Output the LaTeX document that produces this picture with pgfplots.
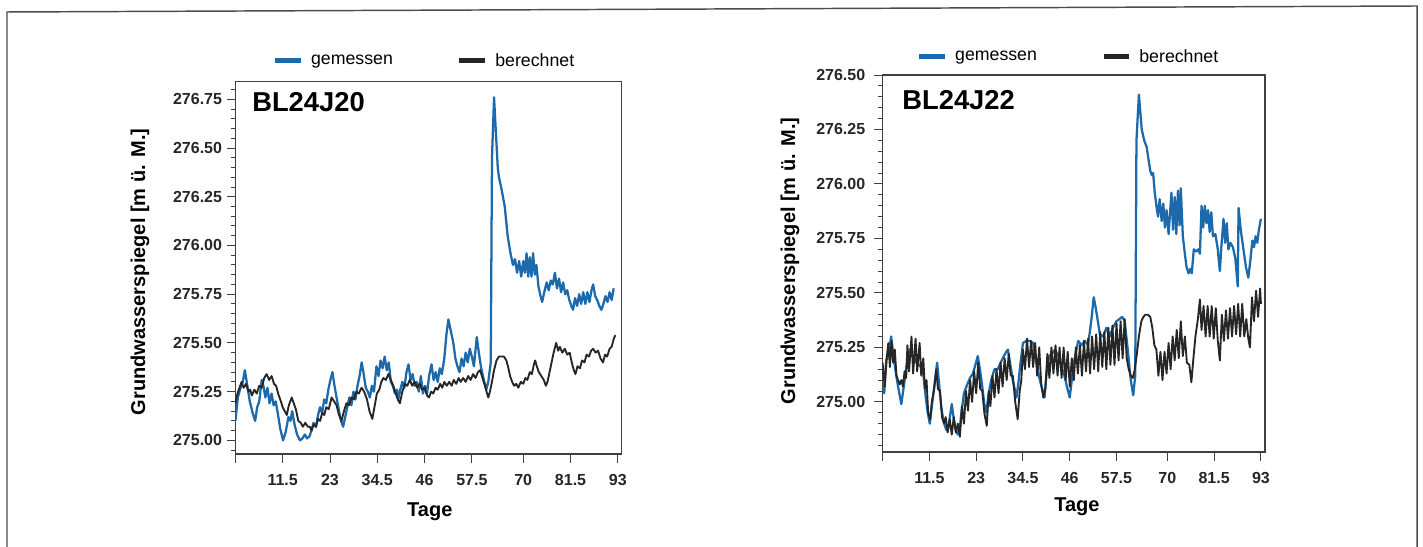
\documentclass[border=0pt]{standalone}
\usepackage{fontspec}
\setmainfont{Liberation Sans}
\usepackage{pgfplots}
\usepackage{pgfplotstable}
\pgfplotsset{compat=1.18}
\definecolor{mess}{RGB}{28,106,172}
\definecolor{rech}{RGB}{38,38,38}

% BL24J20 gemessen
\pgfplotstableread{
t h
0.0 275.10
0.6 275.22
1.1 275.26
1.8 275.30
2.3 275.36
2.9 275.28
3.5 275.20
4.2 275.14
4.8 275.10
5.3 275.17
5.8 275.20
6.4 275.31
6.8 275.28
7.3 275.22
7.8 275.27
8.3 275.19
8.8 275.24
9.3 275.18
9.8 275.20
10.3 275.14
10.9 275.06
11.6 275.00
12.2 275.04
12.9 275.12
13.4 275.10
13.8 275.15
14.4 275.08
15.0 275.03
15.7 275.00
16.3 275.01
16.9 275.03
17.4 275.01
18.0 275.02
18.5 275.05
19.0 275.09
19.6 275.07
20.1 275.13
20.6 275.17
21.1 275.14
21.6 275.21
22.1 275.19
22.6 275.26
23.1 275.31
23.6 275.35
24.1 275.28
24.6 275.22
25.2 275.15
25.7 275.10
26.2 275.07
26.7 275.12
27.2 275.17
27.7 275.22
28.2 275.18
28.7 275.25
29.2 275.21
29.7 275.28
30.2 275.33
30.7 275.40
31.2 275.34
31.7 275.27
32.2 275.25
32.7 275.22
33.2 275.28
33.7 275.25
34.3 275.38
34.8 275.33
35.3 275.41
35.8 275.37
36.3 275.43
36.8 275.36
37.3 275.40
37.8 275.30
38.3 275.28
38.8 275.24
39.3 275.26
39.6 275.21
40.1 275.26
40.6 275.30
41.1 275.27
41.6 275.35
42.1 275.39
42.6 275.31
43.1 275.34
43.6 275.28
44.1 275.30
44.6 275.25
45.1 275.33
45.6 275.24
46.1 275.28
46.6 275.24
47.1 275.33
47.7 275.39
48.2 275.31
48.7 275.35
49.2 275.30
49.7 275.37
50.2 275.34
50.8 275.42
51.3 275.54
51.8 275.62
52.3 275.57
53.0 275.50
53.5 275.42
54.0 275.38
54.5 275.35
55.0 275.42
55.5 275.38
56.0 275.45
56.5 275.40
57.0 275.47
57.5 275.43
58.0 275.38
58.7 275.53
59.2 275.45
59.7 275.38
60.3 275.32
61.0 275.26
61.5 275.30
62.1 275.40
62.4 276.45
62.9 276.76
63.4 276.56
63.8 276.40
64.1 276.35
64.8 276.28
65.5 276.20
66.2 276.05
66.9 275.96
67.5 275.90
68.0 275.93
68.5 275.86
69.0 275.92
69.5 275.84
70.0 275.92
70.4 275.86
70.8 275.96
71.2 275.84
71.6 275.94
72.0 275.84
72.4 275.96
72.8 275.85
73.2 275.90
73.7 275.79
74.2 275.74
74.6 275.71
75.1 275.76
75.7 275.81
76.2 275.77
76.7 275.82
77.2 275.80
77.7 275.86
78.2 275.78
78.7 275.83
79.2 275.76
79.7 275.81
80.2 275.75
80.7 275.77
81.2 275.72
81.7 275.69
82.1 275.67
82.6 275.73
83.1 275.69
83.6 275.75
84.1 275.70
84.6 275.76
85.1 275.70
85.6 275.76
86.1 275.71
86.6 275.77
87.0 275.80
87.5 275.74
88.0 275.72
88.5 275.69
89.0 275.67
89.5 275.70
90.0 275.74
90.5 275.71
91.0 275.76
91.5 275.72
92.0 275.78
}\Lmess

% BL24J20 berechnet
\pgfplotstableread{
t h
0.0 275.19
0.5 275.24
1.0 275.27
1.5 275.30
2.0 275.27
2.6 275.29
3.2 275.25
3.6 275.26
4.0 275.23
4.6 275.26
5.2 275.24
5.8 275.28
6.4 275.27
7.0 275.32
7.6 275.34
8.2 275.31
8.8 275.33
9.4 275.29
9.9 275.28
10.4 275.24
10.9 275.21
11.5 275.17
12.0 275.15
12.5 275.13
13.0 275.18
13.7 275.22
14.2 275.19
14.7 275.16
15.3 275.10
15.9 275.09
16.4 275.07
17.0 275.09
17.6 275.07
18.1 275.07
18.5 275.05
19.0 275.08
19.6 275.07
20.1 275.11
20.6 275.10
21.1 275.14
21.6 275.13
22.1 275.17
22.7 275.16
23.4 275.22
24.0 275.20
24.6 275.18
25.2 275.13
25.8 275.10
26.4 275.15
27.0 275.19
27.6 275.18
28.2 275.22
28.8 275.21
29.4 275.25
30.0 275.24
30.7 275.27
31.3 275.25
32.0 275.21
32.6 275.15
33.3 275.11
33.9 275.18
34.4 275.24
35.0 275.26
35.5 275.30
36.0 275.32
36.6 275.31
37.2 275.34
37.8 275.31
38.4 275.28
39.0 275.24
39.5 275.21
40.0 275.19
40.6 275.25
41.2 275.29
41.8 275.28
42.4 275.31
43.0 275.28
43.6 275.30
44.2 275.27
44.8 275.29
45.4 275.26
46.0 275.27
46.6 275.23
47.1 275.22
47.6 275.25
48.1 275.24
48.7 275.27
49.2 275.26
49.8 275.29
50.3 275.27
50.8 275.30
51.4 275.28
52.0 275.30
52.6 275.28
53.1 275.31
53.7 275.29
54.3 275.32
54.8 275.30
55.4 275.32
56.0 275.30
56.6 275.33
57.2 275.31
57.8 275.34
58.4 275.32
59.0 275.35
59.5 275.36
60.1 275.32
60.7 275.28
61.2 275.24
61.5 275.22
61.9 275.25
62.3 275.29
62.9 275.36
63.5 275.41
64.1 275.43
64.7 275.43
65.3 275.43
65.9 275.41
66.4 275.37
66.8 275.33
67.3 275.30
67.8 275.28
68.3 275.29
68.8 275.27
69.4 275.30
70.0 275.29
70.5 275.32
71.0 275.31
71.6 275.35
72.1 275.34
72.6 275.39
72.9 275.41
73.3 275.38
73.8 275.35
74.4 275.33
75.0 275.31
75.5 275.28
75.9 275.30
76.4 275.35
76.9 275.40
77.4 275.45
78.0 275.50
78.5 275.46
78.9 275.48
79.5 275.45
80.1 275.47
80.7 275.44
81.3 275.45
81.8 275.40
82.3 275.36
82.7 275.34
83.2 275.38
83.8 275.37
84.3 275.41
84.9 275.40
85.4 275.44
86.0 275.43
86.5 275.46
87.0 275.47
87.6 275.45
88.2 275.46
88.8 275.42
89.4 275.40
89.9 275.44
90.4 275.43
91.0 275.47
91.5 275.48
92.0 275.52
92.4 275.54
}\Lrech

% BL24J22 gemessen
\pgfplotstableread{
t h
0.0 275.08
0.4 275.04
0.9 275.19
1.5 275.22
2.1 275.30
2.6 275.22
3.2 275.14
3.8 275.07
4.6 274.99
5.2 275.07
5.7 275.14
6.2 275.21
6.7 275.24
7.2 275.22
7.8 275.20
8.3 275.18
8.9 275.17
9.4 275.16
10.0 275.13
10.6 275.02
11.1 274.95
11.6 274.90
12.1 274.98
12.7 275.07
13.4 275.18
13.9 275.08
14.4 274.98
14.8 274.93
15.3 274.89
15.7 274.87
16.3 274.90
17.0 274.99
17.5 274.92
18.0 274.87
18.5 274.85
19.0 274.88
19.3 274.94
20.0 275.04
20.8 275.08
21.5 275.11
22.2 275.13
22.8 275.17
23.4 275.21
24.0 275.14
24.5 275.07
25.0 274.99
25.5 274.95
26.0 275.03
26.7 275.10
27.5 275.15
28.3 275.15
29.0 275.18
29.8 275.21
30.4 275.23
30.8 275.24
31.4 275.17
32.0 275.10
32.9 275.02
33.4 275.09
33.9 275.18
34.5 275.27
35.3 275.28
36.1 275.28
37.0 275.27
37.6 275.20
38.4 275.12
39.2 275.06
39.8 275.02
40.3 275.13
40.9 275.21
41.6 275.22
42.4 275.24
43.2 275.21
44.0 275.16
44.7 275.12
45.3 275.07
46.0 275.02
46.5 275.10
47.2 275.20
48.1 275.28
48.9 275.26
49.7 275.28
50.5 275.26
51.0 275.33
51.4 275.39
51.9 275.48
52.4 275.43
53.0 275.36
53.4 275.31
54.2 275.30
55.0 275.34
55.8 275.30
56.6 275.34
57.5 275.37
58.2 275.38
58.9 275.39
59.5 275.37
60.2 275.25
61.0 275.10
61.6 275.03
62.1 275.12
62.4 276.20
63.0 276.41
63.7 276.25
64.3 276.20
64.9 276.17
65.3 276.12
65.8 276.06
66.2 276.04
66.5 276.05
66.9 275.96
67.3 275.90
67.7 275.85
68.1 275.93
68.6 275.83
69.0 275.91
69.4 275.80
69.8 275.88
70.3 275.77
71.0 275.96
71.4 275.79
71.8 275.94
72.2 275.77
72.6 275.97
73.0 275.81
73.3 275.98
73.8 275.76
74.3 275.68
74.7 275.62
75.2 275.59
75.6 275.61
76.0 275.59
76.5 275.70
77.1 275.69
77.6 275.70
78.0 275.68
78.4 275.90
78.8 275.80
79.2 275.90
79.6 275.82
80.0 275.88
80.4 275.78
80.8 275.87
81.2 275.76
81.8 275.77
82.4 275.70
82.9 275.60
83.3 275.72
83.8 275.84
84.2 275.73
84.6 275.82
85.0 275.70
85.5 275.73
86.1 275.71
86.7 275.66
87.3 275.53
87.5 275.89
88.1 275.78
88.7 275.70
89.3 275.62
89.9 275.57
90.4 275.65
90.9 275.74
91.3 275.71
91.7 275.76
92.1 275.73
92.5 275.79
93.0 275.84
}\Rmess

% BL24J22 berechnet
\pgfplotstableread{
t h
0.0 275.18
0.5 275.07
1.0 275.20
1.4 275.27
1.8 275.16
2.2 275.28
2.6 275.18
3.0 275.24
3.4 275.12
3.8 275.10
4.2 275.08
4.6 275.10
5.0 275.07
5.4 275.14
5.8 275.11
6.1 275.26
6.5 275.14
7.1 275.30
7.5 275.13
8.1 275.29
8.5 275.14
9.1 275.27
9.5 275.12
10.0 275.20
10.4 275.06
10.8 275.10
11.2 274.95
11.7 274.92
12.1 275.00
12.6 275.05
13.2 275.15
13.6 275.06
14.1 275.05
14.6 274.93
15.1 274.90
15.5 274.93
16.0 274.86
16.5 274.92
17.0 274.85
17.5 274.93
18.0 274.86
18.5 274.90
19.0 274.84
19.5 274.98
20.0 274.90
20.5 275.05
21.0 274.96
21.5 275.10
22.0 275.00
22.5 275.14
23.0 275.04
23.5 275.18
24.0 275.06
24.5 275.05
25.0 274.95
25.6 274.89
26.1 275.05
26.5 274.98
27.0 275.12
27.5 275.02
28.0 275.15
28.5 275.04
29.0 275.18
29.5 275.07
30.0 275.20
30.5 275.10
31.0 275.22
31.5 275.12
32.0 275.12
32.6 275.00
33.2 274.92
33.7 275.05
34.1 275.10
34.5 275.24
35.0 275.15
35.5 275.29
36.0 275.16
36.5 275.28
37.0 275.16
37.5 275.27
38.0 275.12
38.5 275.25
39.0 275.08
39.5 275.02
40.0 275.06
40.5 275.22
41.0 275.11
41.5 275.25
42.0 275.13
42.5 275.26
43.0 275.12
43.5 275.25
44.0 275.11
44.5 275.25
45.0 275.10
45.5 275.23
46.0 275.07
46.5 275.20
47.0 275.10
47.5 275.25
48.0 275.13
48.5 275.26
49.0 275.12
49.5 275.28
50.0 275.14
50.5 275.29
51.0 275.13
51.5 275.30
52.0 275.15
52.5 275.31
53.0 275.14
53.5 275.32
54.0 275.16
54.5 275.32
55.0 275.15
55.5 275.34
56.0 275.17
56.5 275.35
57.0 275.17
57.5 275.36
58.0 275.19
58.5 275.37
59.0 275.20
59.5 275.38
60.0 275.20
60.5 275.15
61.0 275.12
61.5 275.11
62.0 275.15
62.5 275.22
63.0 275.30
63.6 275.37
64.1 275.39
64.6 275.40
65.2 275.40
65.8 275.39
66.3 275.34
66.8 275.26
67.3 275.24
67.8 275.12
68.3 275.23
68.8 275.10
69.3 275.23
69.8 275.13
70.3 275.27
70.8 275.15
71.3 275.30
71.8 275.19
72.3 275.33
72.8 275.20
73.3 275.37
73.8 275.21
74.3 275.30
74.8 275.18
75.4 275.17
75.9 275.09
76.4 275.20
76.9 275.30
77.5 275.38
78.0 275.47
78.4 275.33
78.9 275.44
79.4 275.30
79.9 275.44
80.4 275.30
80.9 275.44
81.4 275.29
81.9 275.43
82.4 275.28
82.9 275.19
83.4 275.40
83.9 275.28
84.4 275.42
84.9 275.29
85.4 275.43
85.9 275.30
86.4 275.44
86.9 275.31
87.4 275.45
87.9 275.30
88.4 275.45
88.9 275.30
89.4 275.38
89.9 275.29
90.3 275.25
90.8 275.48
91.3 275.37
91.8 275.51
92.3 275.39
92.8 275.52
93.0 275.45
}\Rrech

\pgfplotsset{
  gw/.style={
    scale only axis, anchor=south west,
    xmin=0, xmax=94,
    xtick={0,11.5,23,34.5,46,57.5,70,81.5,93},
    xticklabels={,11.5,23,34.5,46,57.5,70,81.5,93},
    minor x tick num=4,
    xtick pos=left, ytick pos=left,
    tick align=outside,
    major tick length=6.5pt, minor tick length=3.5pt,
    axis line style={black!75, line width=0.8pt},
    every tick/.style={black!75, line width=0.7pt},
    tick label style={font=\bfseries\fontsize{12}{14}\selectfont, text=black!85},
    /pgf/number format/fixed,
    /pgf/number format/fixed zerofill,
    /pgf/number format/precision=2,
    /pgf/number format/assume math mode=true,
    xticklabel style={yshift=-5.5pt},
    label style={font=\bfseries\fontsize{15}{18}\selectfont},
    xlabel={Tage}, ylabel={Grundwasserspiegel [m ü. M.]},
    legend columns=2,
    legend style={draw=none, fill=none, font=\fontsize{13.3}{15}\selectfont,
      /tikz/every odd column/.append style={column sep=4pt},
      /tikz/every even column/.append style={column sep=46pt}},
    legend image code/.code={\draw[#1, line width=3.8pt] (0pt,0pt) -- (19pt,0pt);},
  },
  messline/.style={mess, line width=1.7pt, line join=round},
  rechline/.style={rech, line width=1.4pt, line join=round},
}

\begin{document}
\begin{tikzpicture}
\useasboundingbox (0pt,0pt) rectangle (1067.25pt,409.5pt);
\draw[black!70, line width=1.1pt] (5.25pt,-4pt) -- (5.25pt,400.5pt) -- (1062.75pt,405pt) -- (1062.75pt,-4pt);

\begin{axis}[gw,
  at={(176.55pt,69pt)}, width=289.9pt, height=279.2pt,
  ymin=274.93, ymax=276.84,
  ytick={275,275.25,275.5,275.75,276,276.25,276.5,276.75},
  minor ytick={274.95,275.00,...,276.85},
  ylabel style={at={(axis description cs:-0.247,0.489)}, anchor=center},
  xlabel style={at={(axis description cs:0.503,-0.156)}, anchor=center},
  legend style={at={(axis description cs:0.49,1.056)}, anchor=center},
]
\addplot[messline] table[x=t, y=h] {\Lmess};
\addlegendentry{gemessen}
\addplot[rechline] table[x=t, y=h] {\Lrech};
\addlegendentry{berechnet}
\node[anchor=north west, inner sep=0pt, font=\bfseries\fontsize{20.5}{24}\selectfont]
  at (axis description cs:0.043,0.972) {BL24J20};
\end{axis}

\begin{axis}[gw,
  at={(661.95pt,70.5pt)}, width=286.8pt, height=282.75pt,
  ymin=274.77, ymax=276.50,
  ytick={275,275.25,275.5,275.75,276,276.25,276.5},
  minor ytick={274.80,274.85,...,276.50},
  yticklabel style={xshift=-3pt},
  ylabel style={at={(axis description cs:-0.242,0.507)}, anchor=center},
  xlabel style={at={(axis description cs:0.508,-0.146)}, anchor=center},
  legend style={at={(axis description cs:0.487,1.048)}, anchor=center},
]
\addplot[messline] table[x=t, y=h] {\Rmess};
\addlegendentry{gemessen}
\addplot[rechline] table[x=t, y=h] {\Rrech};
\addlegendentry{berechnet}
\node[anchor=north west, inner sep=0pt, font=\bfseries\fontsize{20.5}{24}\selectfont]
  at (axis description cs:0.051,0.960) {BL24J22};
\end{axis}
\end{tikzpicture}
\end{document}
